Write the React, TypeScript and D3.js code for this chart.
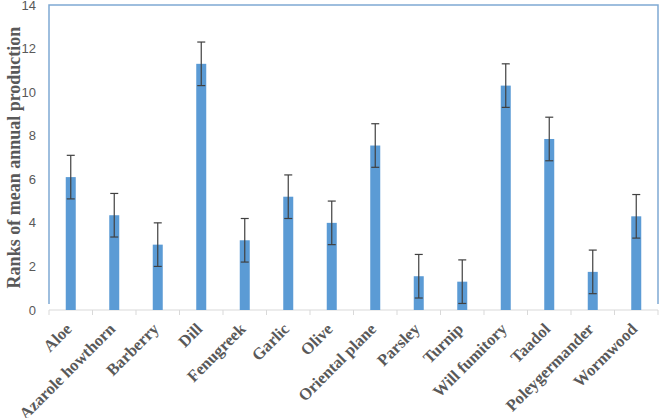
import React, { useEffect, useRef } from "react";
import * as d3 from "d3";

// plants and their mean annual production ranks (with +/- error)
const plants = [
  "Aloe", "Azarole howthorn", "Barberry", "Dill", "Fenugreek", "Garlic", "Olive",
  "Oriental plane", "Parsley", "Turnip", "Will fumitory", "Taadol", "Poleygermander", "Wormwood",
];
const ranks = [6.1, 4.35, 3.0, 11.3, 3.2, 5.2, 4.0, 7.55, 1.55, 1.3, 10.3, 7.85, 1.75, 4.3];
const errs = [1, 1, 1, 1, 1, 1, 1, 1, 1, 1, 1, 1, 1, 1];
const yTicks = [0, 2, 4, 6, 8, 10, 12, 14];

const App = () => {
  const ref = useRef<SVGSVGElement>(null);

  useEffect(() => {
    const svg = d3.select(ref.current);
    svg.selectAll("*").remove();

    const left = 49, right = 658, top = 5, bottom = 310;

    const x = d3.scaleBand().domain(plants).range([left, right]);
    const y = d3.scaleLinear().domain([0, 14]).range([bottom, top]);

    // blue frame of the plot area
    svg.append("path")
      .attr("d", `M${left},${bottom - 6}V${top}H${right}V${bottom - 6}`)
      .attr("fill", "none")
      .attr("stroke", "#7fa9d3")
      .attr("stroke-width", 1.5);

    // category axis
    svg.append("line")
      .attr("x1", left).attr("x2", right)
      .attr("y1", bottom).attr("y2", bottom)
      .attr("stroke", "#d9d9d9");
    const bounds = plants.map(p => x(p)!).concat([right]);
    svg.selectAll(".tk").data(bounds).enter()
      .append("line")
      .attr("x1", d => d).attr("x2", d => d)
      .attr("y1", bottom).attr("y2", bottom + 5)
      .attr("stroke", "#d9d9d9");

    // y tick labels
    svg.selectAll(".yl").data(yTicks).enter()
      .append("text")
      .attr("x", 36)
      .attr("y", d => y(d))
      .attr("dy", "0.35em")
      .attr("text-anchor", "end")
      .attr("font-family", "Liberation Sans, Arial, sans-serif")
      .attr("font-size", 13)
      .attr("fill", "#595959")
      .text(d => d);

    // bars
    const bw = 10;
    svg.selectAll("rect").data(ranks).enter()
      .append("rect")
      .attr("x", (d, i) => x(plants[i])! + x.bandwidth() / 2 - bw / 2)
      .attr("width", bw)
      .attr("y", d => y(d))
      .attr("height", d => y(0) - y(d))
      .attr("fill", "#5b9bd5");

    // error bars
    const eb = svg.append("g").attr("stroke", "#404040").attr("stroke-width", 1.2);
    ranks.forEach((d, i) => {
      const cx = x(plants[i])! + x.bandwidth() / 2;
      const hi = y(d + errs[i]), lo = y(d - errs[i]);
      eb.append("line").attr("x1", cx).attr("x2", cx).attr("y1", hi).attr("y2", lo);
      eb.append("line").attr("x1", cx - 4).attr("x2", cx + 4).attr("y1", hi).attr("y2", hi);
      eb.append("line").attr("x1", cx - 4).attr("x2", cx + 4).attr("y1", lo).attr("y2", lo);
    });

    // category labels
    svg.selectAll(".xl").data(plants).enter()
      .append("text")
      .attr("transform", d => `translate(${x(d)! + x.bandwidth() / 2 + 2},${bottom + 20}) rotate(-45)`)
      .attr("text-anchor", "end")
      .attr("font-family", "Liberation Serif, Times New Roman, serif")
      .attr("font-weight", "bold")
      .attr("font-size", 16.5)
      .attr("fill", "#595959")
      .text(d => d);

    // y axis title
    svg.append("text")
      .attr("transform", `translate(20,${(top + bottom) / 2}) rotate(-90)`)
      .attr("text-anchor", "middle")
      .attr("font-family", "Liberation Serif, Times New Roman, serif")
      .attr("font-weight", "bold")
      .attr("font-size", 18)
      .attr("fill", "#595959")
      .text("Ranks of mean annual production");
  }, []);

  return (
    <svg ref={ref} width={660} height={418}
      style={{ position: "absolute", left: 0, top: 0, background: "#fff" }} />
  );
};

export default App;
